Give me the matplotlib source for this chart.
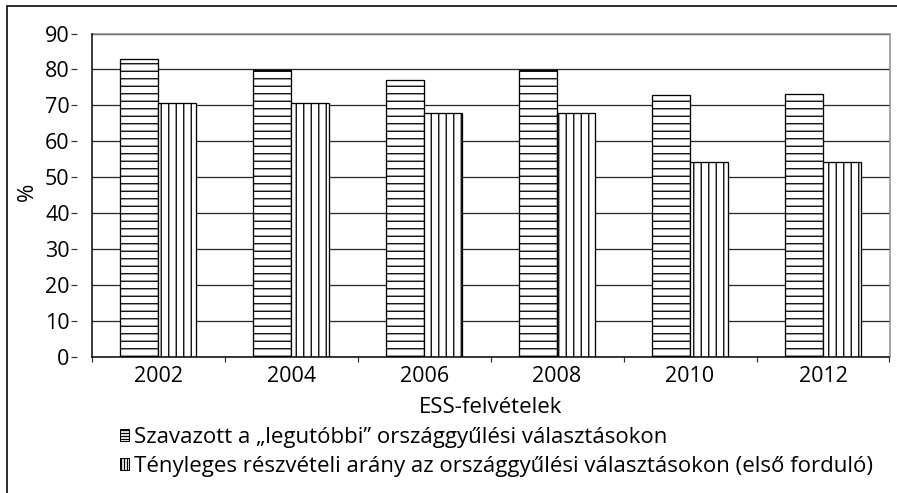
import matplotlib
matplotlib.use('Agg')
import matplotlib.pyplot as plt
from matplotlib.patches import Patch, Rectangle
import numpy as np

years = ['2002', '2004', '2006', '2008', '2010', '2012']
voted = [82.9, 79.8, 77.0, 79.8, 72.9, 73.2]
turnout = [70.6, 70.6, 67.9, 67.9, 54.3, 54.3]
series_labels = ['Szavazott a „legutóbbi” országgyűlési választásokon',
                 'Tényleges részvételi arány az országgyűlési választásokon (első forduló)']
x_title = 'ESS-felvételek'
y_title = '%'
yticks = [0, 10, 20, 30, 40, 50, 60, 70, 80, 90]

DPI = 90
W, H = 897, 493


def pt(px):
    return px * 72.0 / DPI


plt.rcParams['font.family'] = ['Open Sans', 'DejaVu Sans']
plt.rcParams['hatch.linewidth'] = pt(1.3)

fig = plt.figure(figsize=(W / DPI, H / DPI), dpi=DPI)
ax = fig.add_axes([91.7 / W, 1 - 357 / H, (889.5 - 91.7) / W, (357 - 33.5) / H])

# spine setup first (set_position resets tick properties)
ax.spines['left'].set_position(('outward', pt(15)))
ax.spines['left'].set_visible(False)
for s in ['top', 'right']:
    ax.spines[s].set_color('#8a8a8a')
    ax.spines[s].set_linewidth(pt(1.5))
ax.spines['bottom'].set_color('black')
ax.spines['bottom'].set_linewidth(pt(1.5))

x = np.arange(len(years))
bw = 38 / 133
ax.bar(x - bw / 2, voted, width=bw, facecolor='white', edgecolor='black',
       linewidth=pt(1.3), hatch='--', zorder=2)
ax.bar(x + bw / 2, turnout, width=bw, facecolor='white', edgecolor='black',
       linewidth=pt(1.3), hatch='||', zorder=2)

ax.set_xlim(-0.5, len(years) - 0.5)
ax.set_ylim(0, 90)

ax.set_axisbelow(True)
ax.set_yticks(yticks)
ax.yaxis.grid(True, color='#2a2a2a', linewidth=pt(1.3))

fs_tick = pt(21.5)
fs_text = pt(22.2)
ax.set_yticklabels([str(v) for v in yticks], fontsize=fs_tick)
ax.plot([0, 0], [0, 1], transform=ax.transAxes, color='black', lw=pt(1.5),
        clip_on=False, zorder=3)
ax.tick_params(axis='y', direction='out', length=pt(6), width=pt(1.2),
               color='#333333', pad=pt(1))

ax.set_xticks(x)
ax.set_xticklabels(years, fontsize=fs_tick)
ax.set_xticks(np.arange(len(years) + 1) - 0.5, minor=True)
ax.tick_params(axis='x', which='major', length=0, pad=pt(9))
ax.tick_params(axis='x', which='minor', direction='out', length=pt(5),
               width=pt(1.2), color='#333333')

ax.set_xlabel(x_title, fontsize=fs_text, labelpad=pt(10))
fig.text(27 / W, 1 - 192 / H, y_title, rotation=90, ha='center', va='center',
         fontsize=fs_text)

handles = [Patch(facecolor='white', edgecolor='black', hatch='-----', linewidth=pt(1)),
           Patch(facecolor='white', edgecolor='black', hatch='|||||', linewidth=pt(1))]
fig.legend(handles, series_labels, loc='upper left',
           bbox_to_anchor=(120 / W, 1 - 427 / H), frameon=False,
           fontsize=fs_text, handlelength=0.4, handleheight=0.4,
           handletextpad=0.25, labelspacing=0.36, borderpad=0, borderaxespad=0)

fig.add_artist(Rectangle((7.3 / W, -0.1), 2.0, 1.1 - 6.5 / H,
                         transform=fig.transFigure, fill=False,
                         edgecolor='black', linewidth=pt(1.6)))

fig.savefig('out.png', dpi=DPI)
